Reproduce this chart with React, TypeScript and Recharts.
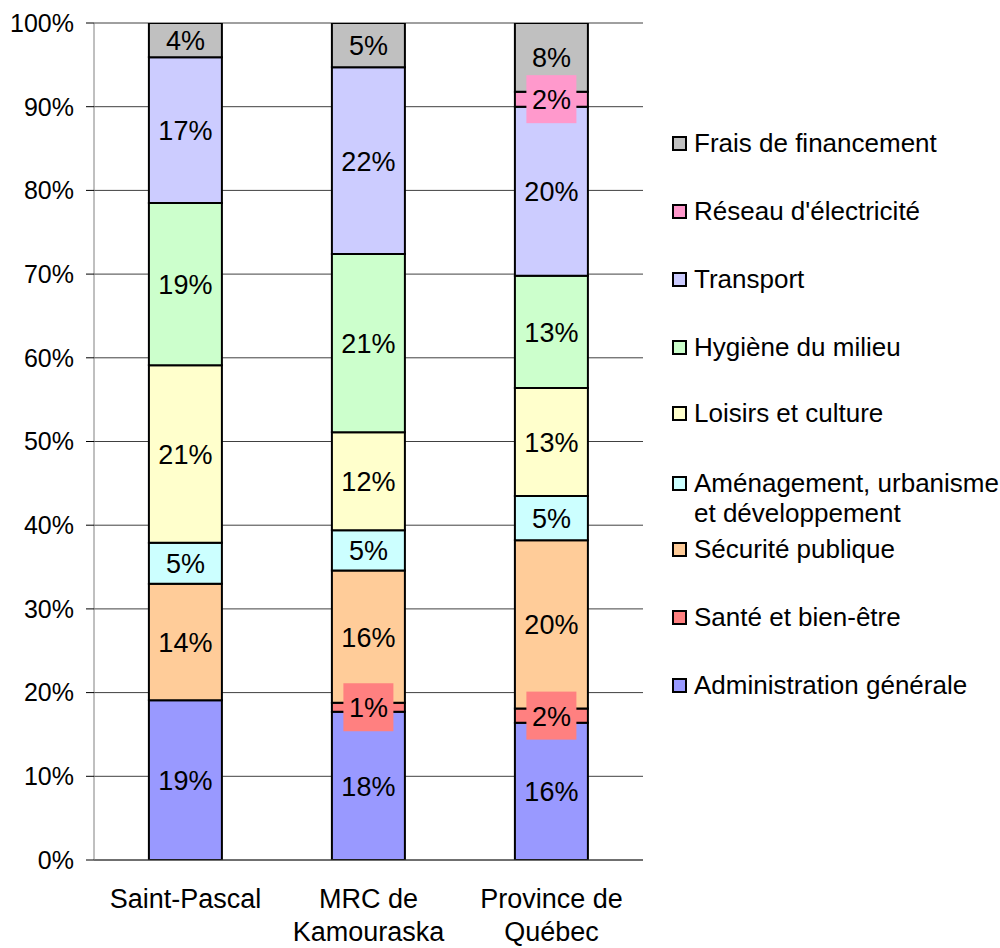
import { BarChart, Bar, XAxis, YAxis, CartesianGrid, LabelList } from "recharts";

const categories = ["Saint-Pascal", "MRC de Kamouraska", "Province de Québec"];
const categoryLines = [["Saint-Pascal"], ["MRC de", "Kamouraska"], ["Province de", "Québec"]];

const administration = [19.1, 17.7, 16.4];
const sante = [0, 1.1, 1.7];
const securite = [13.9, 15.8, 20.1];
const amenagement = [4.9, 4.8, 5.3];
const loisirs = [21.2, 11.7, 12.9];
const hygiene = [19.4, 21.3, 13.4];
const transport = [17.4, 22.3, 20.2];
const reseau = [0, 0, 1.8];
const frais = [4.1, 5.3, 8.2];

const yTicks = [0, 10, 20, 30, 40, 50, 60, 70, 80, 90, 100];

// stack order, bottom to top
const series = [
  { key: "admin", name: "Administration générale", values: administration, color: "#9999FF", boxed: false },
  { key: "sante", name: "Santé et bien-être", values: sante, color: "#FF8080", boxed: true },
  { key: "securite", name: "Sécurité publique", values: securite, color: "#FFCC99", boxed: false },
  { key: "amenagement", name: "Aménagement, urbanisme\net développement", values: amenagement, color: "#CCFFFF", boxed: false },
  { key: "loisirs", name: "Loisirs et culture", values: loisirs, color: "#FFFFCC", boxed: false },
  { key: "hygiene", name: "Hygiène du milieu", values: hygiene, color: "#CCFFCC", boxed: false },
  { key: "transport", name: "Transport", values: transport, color: "#CCCCFF", boxed: false },
  { key: "reseau", name: "Réseau d'électricité", values: reseau, color: "#FF99CC", boxed: true },
  { key: "frais", name: "Frais de financement", values: frais, color: "#C0C0C0", boxed: false },
];

const data = categories.map((c, i) => {
  const row: Record<string, any> = { name: c, idx: i };
  series.forEach((s) => (row[s.key] = s.values[i]));
  return row;
});

const FONT = "'Liberation Sans', Arial, sans-serif";

function XTick(props: any) {
  const { x, y, payload } = props;
  const lines = categoryLines[payload.index] ?? [payload.value];
  return (
    <text x={x} textAnchor="middle" fontSize={27} fontFamily={FONT} fill="#000">
      {lines.map((l: string, i: number) => (
        <tspan key={i} x={x} y={y + 46 + i * 33}>
          {l}
        </tspan>
      ))}
    </text>
  );
}

function makeLabel(color: string, boxed: boolean) {
  return (props: any) => {
    const { x, y, width, height, value } = props;
    if (!value) return null;
    const cx = x + width / 2;
    const cy = y + height / 2;
    return (
      <g>
        {boxed && <rect x={cx - 25} y={cy - 24} width={50} height={48} fill={color} />}
        <text x={cx} y={cy + 10} textAnchor="middle" fontSize={27} fontFamily={FONT} fill="#000">
          {Math.round(value)}%
        </text>
      </g>
    );
  };
}

const legendTops = [143, 211, 279, 347, 413, 483, 549, 617, 685];

function LegendBox() {
  const items = [...series].reverse();
  return (
    <div style={{ position: "absolute", left: 0, top: 0, fontFamily: FONT, fontSize: 26, color: "#000" }}>
      {items.map((s, i) => {
        const lines = s.name.split("\n");
        return (
          <div key={s.key} style={{ position: "absolute", left: 672, top: legendTops[i] - 15 }}>
            <div
              style={{
                position: "absolute",
                left: 0,
                top: 8,
                width: 11,
                height: 11,
                background: s.color,
                border: "2px solid #000",
              }}
            />
            <div style={{ position: "absolute", left: 22, top: 0, whiteSpace: "nowrap", lineHeight: "30px" }}>
              {lines.map((l, j) => (
                <div key={j}>{l}</div>
              ))}
            </div>
          </div>
        );
      })}
    </div>
  );
}

export default function App() {
  return (
    <div style={{ position: "absolute", left: 0, top: 0, width: 1000, height: 948, background: "#fff" }}>
      <BarChart
        width={1000}
        height={948}
        data={data}
        margin={{ top: 23, right: 357, bottom: 0, left: 0 }}
        barCategoryGap="30%"
      >
        <CartesianGrid vertical={false} stroke="#404040" strokeWidth={1} />
        <XAxis
          dataKey="name"
          height={88}
          axisLine={{ stroke: "#404040" }}
          tickLine={false}
          tickSize={0}
          tick={<XTick />}
          interval={0}
        />
        <YAxis
          width={94}
          domain={[0, 100]}
          ticks={yTicks}
          allowDataOverflow
          tickFormatter={(v: number) => `${v}%`}
          tick={{ fontSize: 25, fontFamily: FONT, fill: "#000" }}
          tickSize={8}
          tickMargin={12}
          axisLine={{ stroke: "#808080" }}
          tickLine={{ stroke: "#000" }}
        />
        {series.map((s) => (
          <Bar
            key={s.key}
            dataKey={s.key}
            name={s.name}
            stackId="a"
            fill={s.color}
            stroke="#000"
            strokeWidth={2}
            isAnimationActive={false}
          >
            <LabelList dataKey={s.key} content={makeLabel(s.color, s.boxed)} />
          </Bar>
        ))}
      </BarChart>
      <LegendBox />
    </div>
  );
}
